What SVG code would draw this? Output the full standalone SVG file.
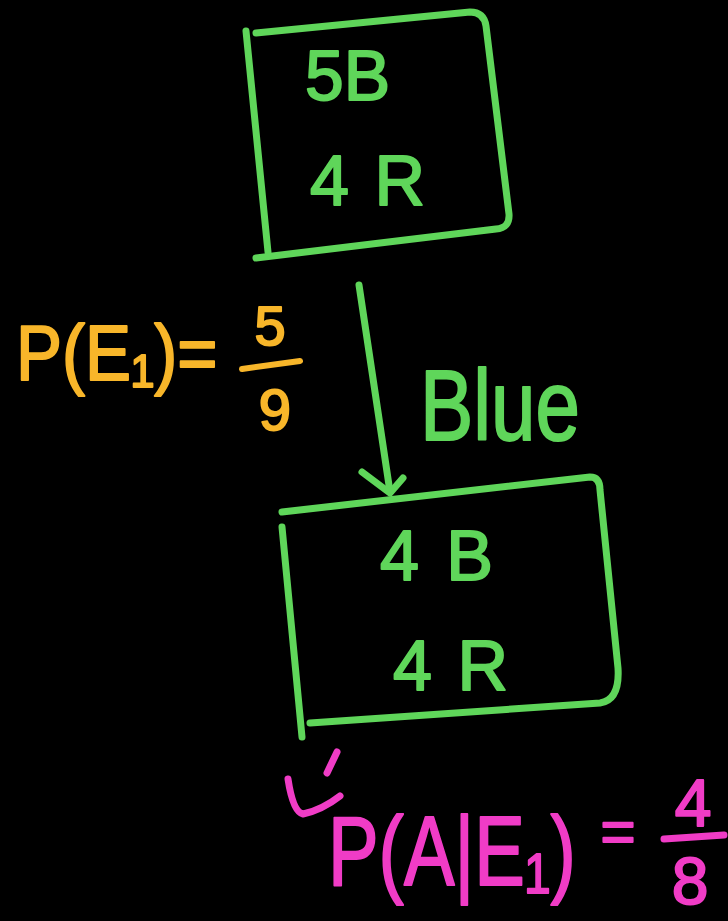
<svg xmlns="http://www.w3.org/2000/svg" width="728" height="921" viewBox="0 0 728 921">
<style>
.g{fill:none;stroke:#5fd65a;stroke-width:7;stroke-linecap:round;stroke-linejoin:round}
.pk{fill:none;stroke:#f03cc6;stroke-width:7;stroke-linecap:round;stroke-linejoin:round}
.og{fill:none;stroke:#f8b62a;stroke-width:6;stroke-linecap:round}
.t{font-family:"Liberation Sans","DejaVu Sans",sans-serif;stroke-width:2;stroke-linejoin:round}
.tg{fill:#5fd65a;stroke:#5fd65a}
.to{fill:#f8b62a;stroke:#f8b62a}
.tp{fill:#f03cc6;stroke:#f03cc6}
</style>
<rect width="728" height="921" fill="#000"/>
<g id="box1">
<path class="g" d="M246,31 L268,252"/>
<path class="g" d="M256,33 L470,12 Q484,12 486,26 L509,214 Q510,228 496,229 L256,258"/>
<text class="t tg" x="305" y="100" font-size="70" textLength="85" lengthAdjust="spacingAndGlyphs">5B</text>
<text class="t tg" x="310" y="205" font-size="70" textLength="115" lengthAdjust="spacing">4R</text>
</g>
<g id="box2">
<path class="g" d="M282,527 L302,737"/>
<path class="g" d="M282,512 L590,477 Q600,477 600,490 L618,668 Q620,700 600,703 L310,723"/>
<text class="t tg" x="380" y="580" font-size="70" textLength="113" lengthAdjust="spacing">4B</text>
<text class="t tg" x="393" y="690" font-size="70" textLength="115" lengthAdjust="spacing">4R</text>
</g>
<g id="connectors">
<path class="g" d="M359,285 L390,492"/>
<path class="g" d="M362,472 L390,493 L403,478"/>
</g>
<g id="label-blue">
<text class="t tg" transform="translate(420,440) scale(0.8,1)" font-size="100" textLength="200" lengthAdjust="spacingAndGlyphs">Blue</text>
</g>
<g id="label-pe1">
<text class="t to" transform="translate(16,380) scale(0.84,1)" font-size="78" textLength="240" lengthAdjust="spacingAndGlyphs">P(E₁)=</text>
<text class="t to" x="270" y="345" font-size="56" text-anchor="middle">5</text>
<path class="og" d="M242,369 L300,361"/>
<text class="t to" x="275" y="430" font-size="58" text-anchor="middle">9</text>
</g>
<g id="label-pae1">
<path class="pk" d="M337,752 L327,773"/>
<path class="pk" d="M288,779 Q293,812 303,814 Q322,810 340,796"/>
<text class="t tp" transform="translate(328,885) scale(0.76,1)" font-size="98" textLength="326" lengthAdjust="spacingAndGlyphs">P(A|E₁)</text>
<text class="t tp" x="618" y="852" font-size="60" text-anchor="middle">=</text>
<text class="t tp" x="693" y="826" font-size="66" text-anchor="middle">4</text>
<path class="pk" d="M664,839 L724,835"/>
<text class="t tp" x="690" y="904" font-size="66" text-anchor="middle">8</text>
</g>
</svg>
